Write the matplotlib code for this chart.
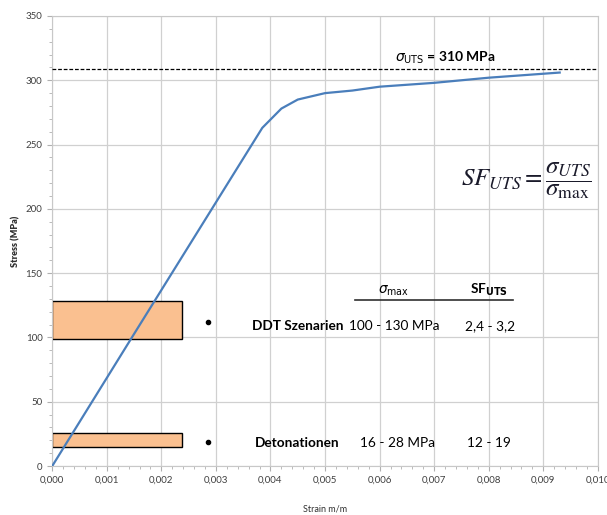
import numpy as np
import matplotlib
matplotlib.use('Agg')
import matplotlib.pyplot as plt
from matplotlib.ticker import MultipleLocator, FuncFormatter

plt.rcParams['font.family'] = ['Lato', 'DejaVu Sans']

# stress-strain curve
strain = [0.0, 0.00146, 0.00385, 0.0042, 0.0045, 0.0050, 0.0055, 0.0060, 0.0070, 0.0080, 0.0093]
stress = [0.0, 100.0, 263.0, 278.0, 285.0, 290.0, 292.0, 295.0, 298.0, 302.0, 306.0]
sigma_uts = 309

# load scenarios
scen_names = ['DDT Szenarien', 'Detonationen']
scen_low = [99, 15]
scen_high = [128, 26]
scen_dot = [112, 19]
scen_sigma = ['100 - 130 MPa', '16 - 28 MPa']
scen_sf = ['2,4 - 3,2', '12 - 19']
box_width = 0.00238

fig, ax = plt.subplots(figsize=(6.07, 5.15), dpi=100,
                       gridspec_kw={'left': 0.086, 'right': 0.985, 'bottom': 0.095, 'top': 0.969})

ax.set_xlim(0, 0.010)
ax.set_ylim(0, 350)
ax.xaxis.set_major_locator(MultipleLocator(0.001))
ax.xaxis.set_minor_locator(MultipleLocator(0.0002))
ax.yaxis.set_major_locator(MultipleLocator(50))
ax.yaxis.set_minor_locator(MultipleLocator(10))
ax.xaxis.set_major_formatter(FuncFormatter(lambda v, p: f'{v:.3f}'.replace('.', ',')))
ax.grid(which='major', color='#d0d0d0', lw=0.9)
ax.set_axisbelow(True)
for s in ax.spines.values():
    s.set_color('#c8c8c8')
ax.tick_params(which='both', colors='#b0b0b0', labelcolor='#404040', labelsize=7)
ax.tick_params(which='minor', length=2)
ax.set_xlabel('Strain m/m', fontsize=6.5, labelpad=14, color='#303030')
ax.set_ylabel('Stress (MPa)', fontsize=6.5, fontweight='heavy', color='#303030')

# boxes
for lo, hi in zip(scen_low, scen_high):
    ax.bar(0, hi - lo, bottom=lo, width=box_width, align='edge',
           color='#fac090', edgecolor='black', lw=1.0, zorder=2)

ax.plot(strain, stress, color='#4a7ebb', lw=1.6, zorder=3)
ax.axhline(sigma_uts, color='black', ls=(0, (3, 1.5)), lw=0.9, zorder=3)
ax.text(0.0072, sigma_uts + 2, r'$\sigma_{\mathrm{UTS}}$ = 310 MPa', fontsize=10,
        fontweight='bold', ha='center', va='bottom', math_fontfamily='dejavusans')

# table
for i in range(len(scen_names)):
    ax.plot(0.00285, scen_dot[i], 'o', color='black', ms=3, zorder=4)
fs = 9.8
ax.text(0.00533, 109, scen_names[0], fontsize=fs, fontweight='bold', ha='right', va='center')
ax.text(0.00526, 18, scen_names[1], fontsize=fs, fontweight='bold', ha='right', va='center')
ax.text(0.00627, 109, scen_sigma[0], fontsize=fs, ha='center', va='center')
ax.text(0.00632, 18, scen_sigma[1], fontsize=fs, ha='center', va='center')
ax.text(0.00802, 109, scen_sf[0], fontsize=fs, ha='center', va='center')
ax.text(0.0080, 18, scen_sf[1], fontsize=fs, ha='center', va='center')
ax.text(0.00625, 131, r'$\sigma_{\mathrm{max}}$', fontsize=fs, ha='center', va='bottom',
        math_fontfamily='dejavusans')
ax.text(0.0080, 131, r'SF$_{\mathbf{UTS}}$', fontsize=fs, fontweight='bold',
        ha='center', va='bottom', math_fontfamily='dejavusans')
ax.plot([0.00555, 0.00844], [129, 129], color='#303030', lw=1.2)

ax.text(0.0099, 222, r'$SF_{UTS} = \dfrac{\sigma_{UTS}}{\sigma_{\max}}$', fontsize=18,
        ha='right', va='center', math_fontfamily='stix', color='#1a1a2a')

plt.savefig('out.png', dpi=100)
